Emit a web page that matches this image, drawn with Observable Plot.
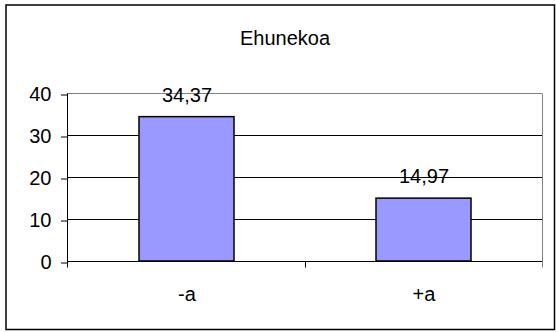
<!DOCTYPE html>
<html>
<head>
<meta charset="utf-8">
<script src="https://cdn.jsdelivr.net/npm/d3@7"></script>
<script src="https://cdn.jsdelivr.net/npm/@observablehq/plot@0.6"></script>
<style>
  html, body { margin: 0; padding: 0; background: #fff; overflow: hidden; }
  #chart svg { display: block; }
</style>
</head>
<body>
<div id="chart"></div>
<script>
const title = "Ehunekoa";
const categories = ["-a", "+a"];
const values = [34.37, 14.97];
const yTicks = [0, 10, 20, 30, 40];

const data = categories.map((category, i) => ({category, value: values[i]}));
const fmt = v => v.toFixed(2).replace(".", ",");
const font = "'Liberation Sans', Arial, sans-serif";

// Axis lines, boundary ticks between categories, and the outer chart border.
function chartLines(index, scales, channels, dims) {
  const g = d3.create("svg:g").attr("fill", "none");
  const left = dims.marginLeft + 0.5;
  const right = dims.width - dims.marginRight + 0.5;
  const y0 = Math.round(scales.y(0)) + 0.5;
  const yTop = Math.round(scales.y(d3.max(yTicks))) + 0.5;
  const tick = 6;
  const n = categories.length;
  const step = (right - left) / n;
  // inner category boundary ticks
  for (let i = 1; i < n; ++i) {
    const x = Math.round(left + i * step) + 0.5;
    g.append("line").attr("x1", x).attr("x2", x).attr("y1", y0).attr("y2", y0 + tick)
      .attr("stroke", "#000");
  }
  // right edge of the plot area
  g.append("line").attr("x1", right).attr("x2", right).attr("y1", yTop).attr("y2", y0 + tick)
    .attr("stroke", "#808080");
  // value axis line
  g.append("line").attr("x1", left).attr("x2", left).attr("y1", yTop).attr("y2", y0 + tick)
    .attr("stroke", "#000");
  // outer chart border
  g.append("rect").attr("x", 6).attr("y", 5)
    .attr("width", dims.width - 7.5).attr("height", dims.height - 7.5)
    .attr("stroke", "#000").attr("stroke-width", 1.5);
  return g.node();
}

const chart = Plot.plot({
  width: 556,
  height: 332,
  marginLeft: 67,
  marginRight: 14,
  marginTop: 93,
  marginBottom: 71,
  style: {fontFamily: font, fontSize: "20px", background: "#fff", color: "#000"},
  x: {domain: categories, paddingInner: 0.6, paddingOuter: 0.3, label: null},
  y: {domain: [0, d3.max(yTicks)], label: null},
  marks: [
    Plot.ruleY(yTicks.filter(d => d > 0 && d < d3.max(yTicks)), {stroke: "#000", strokeWidth: 1}),
    Plot.ruleY([d3.max(yTicks)], {stroke: "#808080", strokeWidth: 1}),
    Plot.barY(data, {x: "category", y: "value", fill: "#9999ff", stroke: "#000", strokeWidth: 1.5}),
    Plot.ruleY([0], {stroke: "#000", strokeWidth: 1}),
    chartLines,
    Plot.axisY(yTicks, {tickSize: 6, tickPadding: 10, fontSize: 20, dy: 1.5, label: null, tickFormat: d => String(d)}),
    Plot.axisX({tickSize: 0, tickPadding: 25, fontSize: 20, label: null}),
    Plot.text(data, {x: "category", y: "value", text: d => fmt(d.value), dy: -22, fontSize: 20, fill: "#000"}),
    Plot.text([title], {frameAnchor: "top", dx: -20, dy: -63, fontSize: 20, fill: "#000"})
  ]
});

document.getElementById("chart").appendChild(chart);
</script>
</body>
</html>
